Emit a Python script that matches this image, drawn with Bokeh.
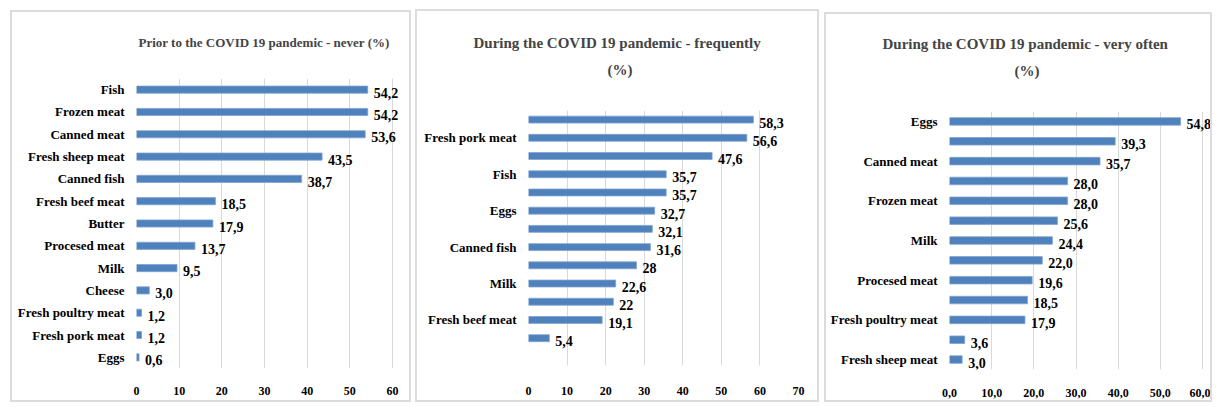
from bokeh.plotting import figure
from bokeh.models import ColumnDataSource, LabelSet, Range1d, FixedTicker, Title
from bokeh.embed import file_html
from bokeh.resources import INLINE

# ---------------- data ----------------
titles = [
    ["Prior to the COVID 19 pandemic - never (%)"],
    ["During  the COVID 19 pandemic  - frequently", "(%)"],
    ["During  the COVID 19 pandemic  - very often", "(%)"],
]

cats_never = ["Fish", "Frozen meat", "Canned meat", "Fresh sheep meat", "Canned fish",
              "Fresh beef meat", "Butter", "Procesed meat", "Milk", "Cheese",
              "Fresh poultry meat", "Fresh pork meat", "Eggs"]
vals_never = [54.2, 54.2, 53.6, 43.5, 38.7, 18.5, 17.9, 13.7, 9.5, 3.0, 1.2, 1.2, 0.6]

# category labels not shown in the reference are left empty
cats_freq = ["", "Fresh pork meat", "", "Fish", "", "Eggs", "", "Canned fish", "",
             "Milk", "", "Fresh beef meat", ""]
vals_freq = [58.3, 56.6, 47.6, 35.7, 35.7, 32.7, 32.1, 31.6, 28, 22.6, 22, 19.1, 5.4]

cats_often = ["Eggs", "", "Canned meat", "", "Frozen meat", "", "Milk", "",
              "Procesed meat", "", "Fresh poultry meat", "", "Fresh sheep meat"]
vals_often = [54.8, 39.3, 35.7, 28.0, 28.0, 25.6, 24.4, 22.0, 19.6, 18.5, 17.9, 3.6, 3.0]

xticks_never = [0, 10, 20, 30, 40, 50, 60]
xticks_freq = [0, 10, 20, 30, 40, 50, 60, 70]
xticks_often = [0, 10, 20, 30, 40, 50, 60]

BAR = "#4f81bd"
GRID = "#d9d9d9"
FONT = "Liberation Serif"


def make_panel(title_lines, title_offsets, title_standoffs, spacer, cats, vals, xticks,
               x_end, tick_fmt, lab_fmt, width, height, left, top, borders, nslots,
               bar_h, title_size, tick_standoff):
    n = len(cats)
    idx = list(range(n))
    labels = [lab_fmt(v) for v in vals]
    src = ColumnDataSource(dict(y=idx, v=vals, lab=labels))
    p = figure(width=width, height=height, output_backend="svg", toolbar_location=None,
               x_range=Range1d(xticks[0], x_end),
               y_range=Range1d(nslots - 0.5, -0.5),
               min_border_left=borders[0], min_border_right=borders[1],
               min_border_top=borders[2], min_border_bottom=borders[3],
               styles={"position": "absolute", "left": f"{left}px", "top": f"{top}px",
                       "border": "2px solid #dcdcdc"})
    p.hbar(y="y", right="v", left=0, height=bar_h, source=src,
           fill_color=BAR, line_color="#7fa3d0", line_width=0.8)
    ls = LabelSet(x="v", y="y", text="lab", source=src, x_offset=6, y_offset=-3,
                  text_baseline="middle", text_font=FONT, text_font_style="bold",
                  text_font_size="14px", text_color="#000000")
    p.add_layout(ls)

    # spacer between the frame and the title lines
    p.add_layout(Title(text=" ", text_font_size="1px", standoff=spacer), "above")
    # extra title lines, nearest to the frame first
    for k in range(len(title_lines) - 1, 0, -1):
        p.add_layout(Title(text=title_lines[k], align="left", text_font=FONT,
                           text_font_style="bold", text_font_size=title_size,
                           offset=title_offsets[k], standoff=title_standoffs[k]),
                     "above")
    p.title.text = title_lines[0]
    p.title.align = "left"
    p.title.text_font = FONT
    p.title.text_font_style = "bold"
    p.title.text_font_size = title_size
    p.title.offset = title_offsets[0]
    p.title.standoff = title_standoffs[0]

    p.outline_line_color = None
    p.ygrid.grid_line_color = None
    p.xgrid.grid_line_color = GRID
    p.xgrid.grid_line_width = 1
    p.xaxis.ticker = FixedTicker(ticks=xticks)
    p.xaxis.major_label_overrides = {t: tick_fmt(t) for t in xticks}
    p.xaxis.axis_line_color = None
    p.xaxis.major_tick_line_color = None
    p.xaxis.minor_tick_line_color = None
    p.xaxis.major_label_standoff = tick_standoff
    p.xaxis.major_label_text_font = FONT
    p.xaxis.major_label_text_font_style = "bold"
    p.xaxis.major_label_text_font_size = "12px"
    p.xaxis.major_label_text_color = "#000000"

    shown = [i for i, c in enumerate(cats) if c]
    p.yaxis.ticker = FixedTicker(ticks=shown)
    p.yaxis.major_label_overrides = {i: cats[i] for i in shown}
    p.yaxis.axis_line_color = None
    p.yaxis.major_tick_line_color = None
    p.yaxis.minor_tick_line_color = None
    p.yaxis.major_label_standoff = 6
    p.yaxis.major_label_text_font = FONT
    p.yaxis.major_label_text_font_style = "bold"
    p.yaxis.major_label_text_font_size = "13px"
    p.yaxis.major_label_text_color = "#000000"
    return p


fmt1 = lambda v: f"{v:.1f}".replace(".", ",")
p1 = make_panel(titles[0], [2], [0], 26, cats_never, vals_never, xticks_never, 64.45,
                lambda t: str(t), fmt1, 401, 392, 10, 10, (124, 2, 66, 36),
                len(cats_never), 0.32, "13px", 12)
p2 = make_panel(titles[1], [-55, 79], [17, 0], 30, cats_freq, vals_freq, xticks_freq,
                70, lambda t: str(t), lambda v: f"{v:g}".replace(".", ","),
                404, 393, 415, 9, (111, 23, 99, 39), len(cats_freq) + 1, 0.38, "15px", 15)
p3 = make_panel(titles[2], [-67, 65], [17, 0], 30, cats_often, vals_often, xticks_often,
                62.37, fmt1, fmt1, 388, 390, 824, 12, (123, 2, 97, 35),
                len(cats_often), 0.38, "15px", 13)

open("out.html", "w").write(file_html([p1, p2, p3], INLINE))
